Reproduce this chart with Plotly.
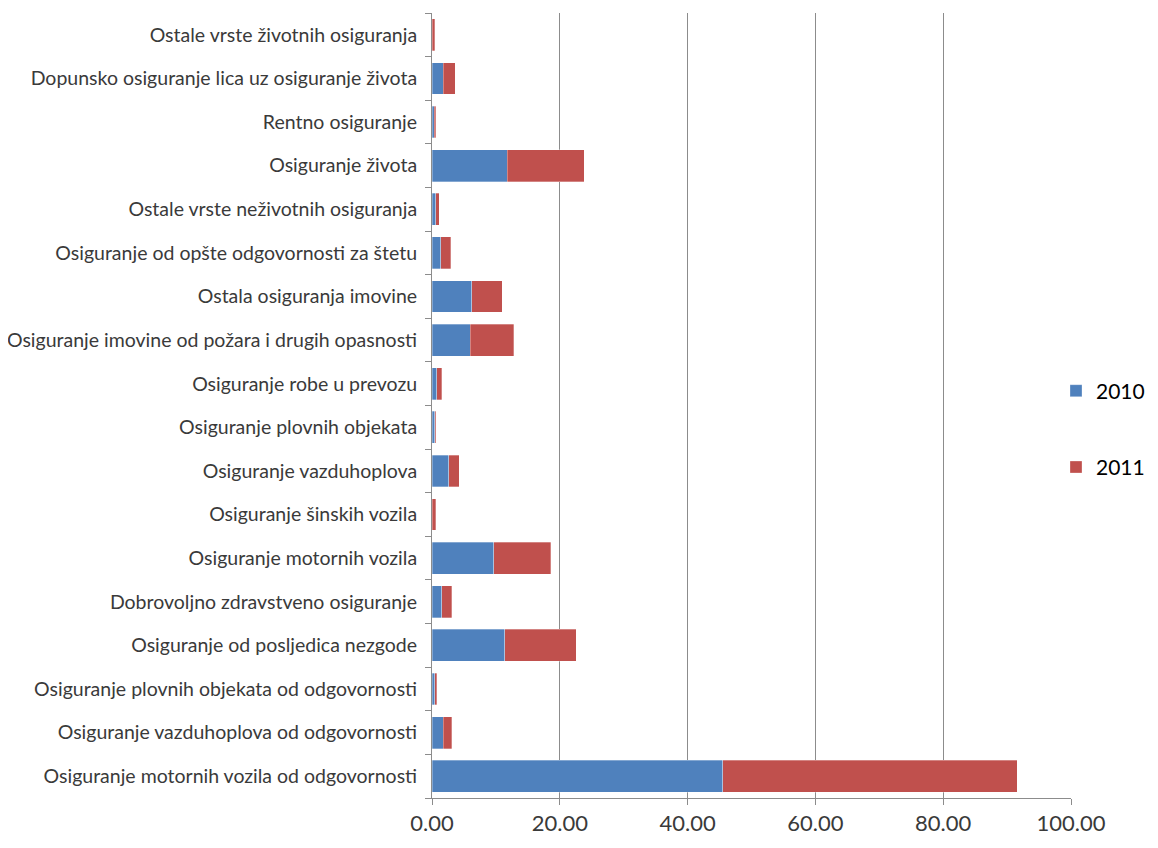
import plotly.graph_objects as go

# categories listed bottom -> top
categories = [
    "Osiguranje motornih vozila od odgovornosti",
    "Osiguranje vazduhoplova od odgovornosti",
    "Osiguranje plovnih objekata od odgovornosti",
    "Osiguranje od posljedica nezgode",
    "Dobrovoljno zdravstveno osiguranje",
    "Osiguranje motornih vozila",
    "Osiguranje šinskih vozila",
    "Osiguranje vazduhoplova",
    "Osiguranje plovnih objekata",
    "Osiguranje robe u prevozu",
    "Osiguranje imovine od požara i drugih opasnosti",
    "Ostala osiguranja imovine",
    "Osiguranje od opšte odgovornosti za štetu",
    "Ostale vrste neživotnih osiguranja",
    "Osiguranje života",
    "Rentno osiguranje",
    "Dopunsko osiguranje lica uz osiguranje života",
    "Ostale vrste životnih osiguranja",
]

vals_2010 = [45.5, 1.75, 0.45, 11.4, 1.55, 9.7, 0.05, 2.6, 0.45, 0.75,
             6.0, 6.2, 1.4, 0.55, 11.8, 0.35, 1.75, 0.05]
vals_2011 = [46.1, 1.35, 0.3, 11.2, 1.55, 8.9, 0.5, 1.65, 0.1, 0.8,
             6.8, 4.8, 1.55, 0.6, 12.0, 0.25, 1.9, 0.35]

x_ticks = [0, 20, 40, 60, 80, 100]

fig = go.Figure()
fig.add_trace(go.Bar(y=categories, x=vals_2010, name="2010", orientation="h",
                     marker=dict(color="#4F81BD", line=dict(color="rgba(255,255,255,0.6)", width=0.5)),
                     legendgroup="a"))
fig.add_trace(go.Bar(y=categories, x=vals_2011, name="2011", orientation="h",
                     marker=dict(color="#C0504D", line=dict(color="rgba(255,255,255,0.6)", width=0.5)),
                     legendgroup="b"))

# page body has an 8px margin on each side; keep the figure inside the window
fig.update_layout(
    barmode="stack",
    bargap=0.27,
    width=1142, height=832,
    margin=dict(l=424, r=79, t=5, b=42, autoexpand=False),
    plot_bgcolor="white",
    paper_bgcolor="white",
    font=dict(family="Lato, Open Sans, sans-serif", color="#3A3A3A"),
    legend=dict(xref="container", x=1.0, xanchor="right",
                y=0.47, yanchor="middle",
                font=dict(size=21, color="#000000"), tracegroupgap=46, itemwidth=30),
    xaxis=dict(range=[0, 100], tickvals=x_ticks, tickformat=".2f",
               showgrid=True, gridcolor="#8C8C8C", gridwidth=1,
               showline=True, linecolor="#8C8C8C", ticks="outside",
               tickcolor="#8C8C8C", ticklen=6, tickfont=dict(size=22),
               zeroline=False),
    yaxis=dict(type="category", tickson="boundaries", ticks="outside",
               tickcolor="#8C8C8C", ticklen=6, showline=True,
               linecolor="#8C8C8C", tickfont=dict(size=19.5),
               ticklabelstandoff=10, automargin=False),
)

fig.write_html("out.html")
